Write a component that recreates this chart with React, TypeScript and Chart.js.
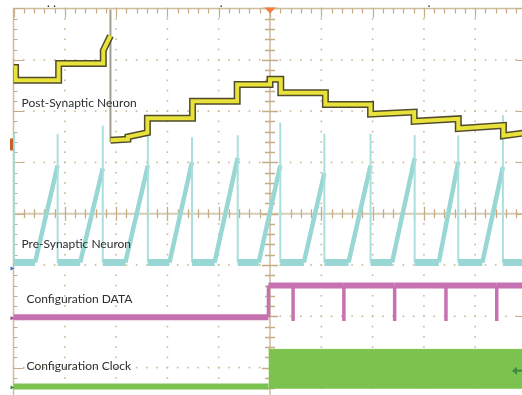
import React, { useEffect, useRef } from "react";
import { Chart, registerables } from "chart.js";

Chart.register(...registerables);

// ---------- Graticule (units: screen divisions) ----------
const X_MIN = 0;
const X_MAX = 10;
const Y_MIN = -4;
const Y_MAX = 4;
const MINOR = 0.2;

// ---------- Channel labels ----------
const channelLabels = [
  "Post-Synaptic Neuron",
  "Pre-Synaptic Neuron",
  "Configuration DATA",
  "Configuration Clock",
];

// ---------- Post-synaptic neuron (yellow staircase) ----------
const postLevelX0 = [0.0, 0.04, 0.88, 1.75, 1.89, 2.23, 2.61, 3.49, 4.36, 5.0, 5.21, 6.08, 6.96, 7.81, 8.67, 9.55];
const postLevelX1 = [0.04, 0.88, 1.75, 1.89, 2.23, 2.61, 3.49, 4.36, 5.0, 5.21, 6.08, 6.96, 7.81, 8.67, 9.55, 10.0];
const postLevelY0 = [2.85, 2.6, 2.93, 3.18, 1.43, 1.5, 1.86, 2.19, 2.52, 2.62, 2.36, 2.13, 1.94, 1.8, 1.66, 1.52];
const postLevelY1 = [2.85, 2.6, 2.93, 3.47, 1.45, 1.58, 1.86, 2.19, 2.52, 2.62, 2.36, 2.13, 1.98, 1.85, 1.72, 1.58];
const postEdgeX = [1.89, 1.89];
const postEdgeY = [3.98, 1.4];

// ---------- Pre-synaptic neuron (cyan sawtooth) ----------
const preBase = -0.95;
const preFirstSpikeTop = 1.58;
const preRampStart = [0.42, 1.3, 2.18, 3.04, 3.92, 4.78, 5.66, 6.53, 7.38, 8.29, 9.14];
const preSpikeX = [0.86, 1.74, 2.62, 3.48, 4.37, 5.2, 6.06, 6.96, 7.82, 8.67, 9.54];
const preRampTop = [0.94, 0.88, 0.94, 1.01, 1.09, 0.94, 0.79, 0.94, 1.08, 1.01, 0.91];
const preSpikeTop = [1.56, 1.72, 1.58, 1.49, 1.53, 1.78, 1.56, 1.56, 1.53, 1.53, 1.92];

// ---------- Configuration DATA (purple) ----------
const dataLow = -2.02;
const dataHigh = -1.4;
const dataPulseLow = -2.09;
const dataRiseX = 4.97;
const dataPulseX = [5.45, 6.44, 7.43, 8.43, 9.42];

// ---------- Configuration Clock (green) ----------
const clockLow = -3.37;
const clockStartX = 4.97;
const clockBandTop = -2.645;
const clockBandBottom = -3.41;

// ---------- Scope markers ----------
const groundMarkerY = [1.37, -1.07, -2.04, -3.39];
const groundMarkerColor = ["#c8602c", "#3b6cc2", "#a2488c", "#3d8a3a"];
const triggerLevelY = -3.06;
const triggerPosX = 5;
const topCursorX = [0.68, 0.8, 4.05, 8.1];

// ---------- Build datasets ----------
function buildPost() {
  const pts: { x: number; y: number | null }[] = [];
  for (let i = 0; i < postLevelX0.length; i++) {
    if (i > 0 && Math.abs(postLevelY0[i] - postLevelY1[i - 1]) > 1) {
      pts.push({ x: postLevelX0[i], y: null });
    }
    pts.push({ x: postLevelX0[i], y: postLevelY0[i] });
    pts.push({ x: postLevelX1[i], y: postLevelY1[i] });
  }
  return pts;
}

function buildPre() {
  const pts: { x: number; y: number }[] = [];
  pts.push({ x: 0.01, y: preFirstSpikeTop });
  pts.push({ x: 0.01, y: preBase });
  for (let i = 0; i < preRampStart.length; i++) {
    pts.push({ x: preRampStart[i], y: preBase });
    pts.push({ x: preSpikeX[i], y: preRampTop[i] });
    pts.push({ x: preSpikeX[i], y: preSpikeTop[i] });
    pts.push({ x: preSpikeX[i], y: preBase });
  }
  pts.push({ x: X_MAX, y: preBase });
  return pts;
}

function buildData() {
  const pts: { x: number; y: number }[] = [
    { x: X_MIN, y: dataLow },
    { x: dataRiseX, y: dataLow },
    { x: dataRiseX, y: dataHigh },
  ];
  for (const px of dataPulseX) {
    pts.push({ x: px, y: dataHigh });
    pts.push({ x: px, y: dataPulseLow });
    pts.push({ x: px, y: dataHigh });
  }
  pts.push({ x: X_MAX, y: dataHigh });
  return pts;
}

const isVertical = (c: any) => c.p0.parsed.x === c.p1.parsed.x;
const isFlat = (c: any) => c.p0.parsed.y === c.p1.parsed.y;

const FONT = "12px Lato, 'Liberation Sans', sans-serif";
const TAN = "#c4ad84";
const DOT = "#cbb993";

const scopePlugin = {
  id: "scopeScreen",
  beforeDatasetsDraw(chart: any) {
    const { ctx, chartArea: a, scales } = chart;
    const x = scales.x;
    const y = scales.y;
    ctx.save();
    // dotted major lines
    ctx.fillStyle = DOT;
    for (let i = X_MIN + 1; i < X_MAX; i++) {
      if (i === 5) continue;
      const px = x.getPixelForValue(i);
      for (let v = Y_MIN; v <= Y_MAX + 1e-6; v += MINOR) {
        const py = y.getPixelForValue(v);
        ctx.fillRect(px - 0.8, py - 0.8, 1.6, 1.6);
      }
    }
    for (let j = Y_MIN + 1; j < Y_MAX; j++) {
      if (j === 0) continue;
      const py = y.getPixelForValue(j);
      for (let v = X_MIN; v <= X_MAX + 1e-6; v += MINOR) {
        const px = x.getPixelForValue(v);
        ctx.fillRect(px - 0.8, py - 0.8, 1.6, 1.6);
      }
    }
    // centre axes
    const cx = x.getPixelForValue(5);
    const cy = y.getPixelForValue(0);
    ctx.strokeStyle = "#d8ccb6";
    ctx.lineWidth = 2;
    ctx.beginPath();
    ctx.moveTo(cx, a.top);
    ctx.lineTo(cx, a.bottom);
    ctx.moveTo(a.left, cy);
    ctx.lineTo(a.right, cy);
    ctx.stroke();
    ctx.strokeStyle = TAN;
    ctx.lineWidth = 1.3;
    ctx.beginPath();
    for (let v = Y_MIN; v <= Y_MAX + 1e-6; v += MINOR) {
      const py = Math.round(y.getPixelForValue(v)) + 0.5;
      const major = Math.abs(v - Math.round(v)) < 1e-6;
      const h = major ? 8 : 5;
      ctx.moveTo(cx - h, py);
      ctx.lineTo(cx + h, py);
    }
    for (let v = X_MIN; v <= X_MAX + 1e-6; v += MINOR) {
      const px = Math.round(x.getPixelForValue(v)) + 0.5;
      const major = Math.abs(v - Math.round(v)) < 1e-6;
      const h = major ? 7 : 4.5;
      ctx.moveTo(px, cy - h);
      ctx.lineTo(px, cy + h);
    }
    ctx.stroke();
    // border + inward ticks
    ctx.strokeStyle = "#cdbd9c";
    ctx.lineWidth = 1.5;
    ctx.strokeRect(a.left, a.top, a.right - a.left, a.bottom - a.top);
    ctx.strokeStyle = TAN;
    ctx.lineWidth = 1.2;
    ctx.beginPath();
    for (let v = X_MIN; v <= X_MAX + 1e-6; v += MINOR) {
      const px = Math.round(x.getPixelForValue(v)) + 0.5;
      const major = Math.abs(v - Math.round(v)) < 1e-6;
      const h = major ? 9 : 5;
      ctx.moveTo(px, a.top);
      ctx.lineTo(px, a.top + h);
      ctx.moveTo(px, a.bottom);
      ctx.lineTo(px, a.bottom - h);
    }
    for (let v = Y_MIN; v <= Y_MAX + 1e-6; v += MINOR) {
      const py = Math.round(y.getPixelForValue(v)) + 0.5;
      const major = Math.abs(v - Math.round(v)) < 1e-6;
      const h = major ? 10 : 4;
      ctx.moveTo(a.left, py);
      ctx.lineTo(a.left + h, py);
      ctx.moveTo(a.right, py);
      ctx.lineTo(a.right - h, py);
    }
    ctx.stroke();
    ctx.restore();
  },
  afterDatasetsDraw(chart: any) {
    const { ctx, chartArea: a, scales } = chart;
    const x = scales.x;
    const y = scales.y;
    ctx.save();
    // channel labels
    ctx.fillStyle = "#2e2e2e";
    ctx.font = FONT;
    ctx.textBaseline = "alphabetic";
    const labelPos = [
      [a.left + 8, 107],
      [a.left + 8, 248],
      [a.left + 13, 303],
      [a.left + 13, 370],
    ];
    channelLabels.forEach((t, i) => ctx.fillText(t, labelPos[i][0], labelPos[i][1]));
    // trigger position marker
    const tx = x.getPixelForValue(triggerPosX);
    ctx.fillStyle = "#f47b3a";
    ctx.beginPath();
    ctx.moveTo(tx - 5.5, a.top - 1);
    ctx.lineTo(tx + 5.5, a.top - 1);
    ctx.lineTo(tx, a.top + 5);
    ctx.closePath();
    ctx.fill();
    // ground markers on the left edge
    groundMarkerY.forEach((v, i) => {
      const py = y.getPixelForValue(v);
      ctx.fillStyle = groundMarkerColor[i];
      if (i === 0) {
        ctx.fillRect(a.left - 3.5, py - 5, 3, 12);
      } else {
        ctx.beginPath();
        ctx.moveTo(a.left - 3, py - 2);
        ctx.lineTo(a.left + 1, py);
        ctx.lineTo(a.left - 3, py + 2);
        ctx.closePath();
        ctx.fill();
      }
    });
    // trigger level arrow on the right
    const ty = y.getPixelForValue(triggerLevelY);
    const ax = 512;
    ctx.strokeStyle = "#3d8a3a";
    ctx.fillStyle = "#3d8a3a";
    ctx.lineWidth = 2;
    ctx.beginPath();
    ctx.moveTo(ax + 3, ty);
    ctx.lineTo(ax + 10, ty);
    ctx.stroke();
    ctx.beginPath();
    ctx.moveTo(ax, ty);
    ctx.lineTo(ax + 5, ty - 4);
    ctx.lineTo(ax + 5, ty + 4);
    ctx.closePath();
    ctx.fill();
    // small cursor marks above the screen
    ctx.fillStyle = "#222";
    topCursorX.forEach((v) => {
      ctx.fillRect(x.getPixelForValue(v) - 0.7, a.top - 3, 1.4, 1.4);
    });
    ctx.restore();
  },
};

const DIV = 51.3;
const LEFT = 13.5;
const TOP = 8.5;
const CW = 530;
const CH = 420;

export default function App() {
  const ref = useRef<HTMLCanvasElement>(null);
  useEffect(() => {
    const chart = new Chart(ref.current as HTMLCanvasElement, {
      type: "line",
      data: {
        // index 0 is drawn on top
        datasets: [
          {
            label: "Post-Synaptic Neuron",
            data: buildPost(),
            borderColor: "#e9e23a",
            borderWidth: 4,
            pointRadius: 0,
            spanGaps: false,
          },
          {
            label: "Post outline",
            data: buildPost(),
            borderColor: "#4f4b2b",
            borderWidth: 7,
            pointRadius: 0,
            spanGaps: false,
          },
          {
            label: "Post edge",
            data: postEdgeX.map((v, i) => ({ x: v, y: postEdgeY[i] })),
            borderColor: "#a19d92",
            borderWidth: 2,
            pointRadius: 0,
          },
          {
            label: "Pre-Synaptic Neuron",
            data: buildPre(),
            borderColor: "#98d7d3",
            borderWidth: 4.5,
            pointRadius: 0,
            tension: 0,
            segment: {
              borderWidth: (c: any) => (isVertical(c) ? 2 : isFlat(c) ? 7 : 4.5),
              borderColor: (c: any) => (isVertical(c) ? "#a9e0dd" : "#98d7d3"),
            },
          } as any,
          {
            label: "Configuration DATA",
            data: buildData(),
            borderColor: "#c672b0",
            borderWidth: 6,
            pointRadius: 0,
            tension: 0,
            segment: {
              borderWidth: (c: any) => (isVertical(c) ? 3.5 : 6),
            },
          } as any,
          {
            label: "Configuration Clock low",
            data: [
              { x: X_MIN, y: clockLow },
              { x: clockStartX, y: clockLow },
            ],
            borderColor: "#7bc24e",
            borderWidth: 6,
            pointRadius: 0,
          },
          {
            label: "Configuration Clock",
            data: [
              { x: clockStartX, y: clockBandTop },
              { x: X_MAX, y: clockBandTop },
            ],
            borderColor: "#7bc24e",
            backgroundColor: "#7bc24e",
            borderWidth: 1,
            pointRadius: 0,
            fill: { value: clockBandBottom },
          } as any,
        ],
      },
      options: {
        responsive: false,
        animation: false,
        devicePixelRatio: 1,
        layout: {
          padding: {
            left: LEFT,
            top: TOP,
            right: CW - (LEFT + 10 * DIV),
            bottom: CH - (TOP + 8 * DIV),
          },
        },
        scales: {
          x: { type: "linear", min: X_MIN, max: X_MAX, display: false },
          y: { type: "linear", min: Y_MIN, max: Y_MAX, display: false },
        },
        plugins: {
          legend: { display: false },
          tooltip: { enabled: false },
        },
      },
      plugins: [scopePlugin],
    });
    return () => chart.destroy();
  }, []);
  return (
    <div
      style={{
        position: "fixed",
        left: 0,
        top: 0,
        width: 522,
        height: 395,
        overflow: "hidden",
        background: "#fff",
      }}
    >
      <canvas ref={ref} width={CW} height={CH} style={{ display: "block", width: CW, height: CH }} />
    </div>
  );
}
